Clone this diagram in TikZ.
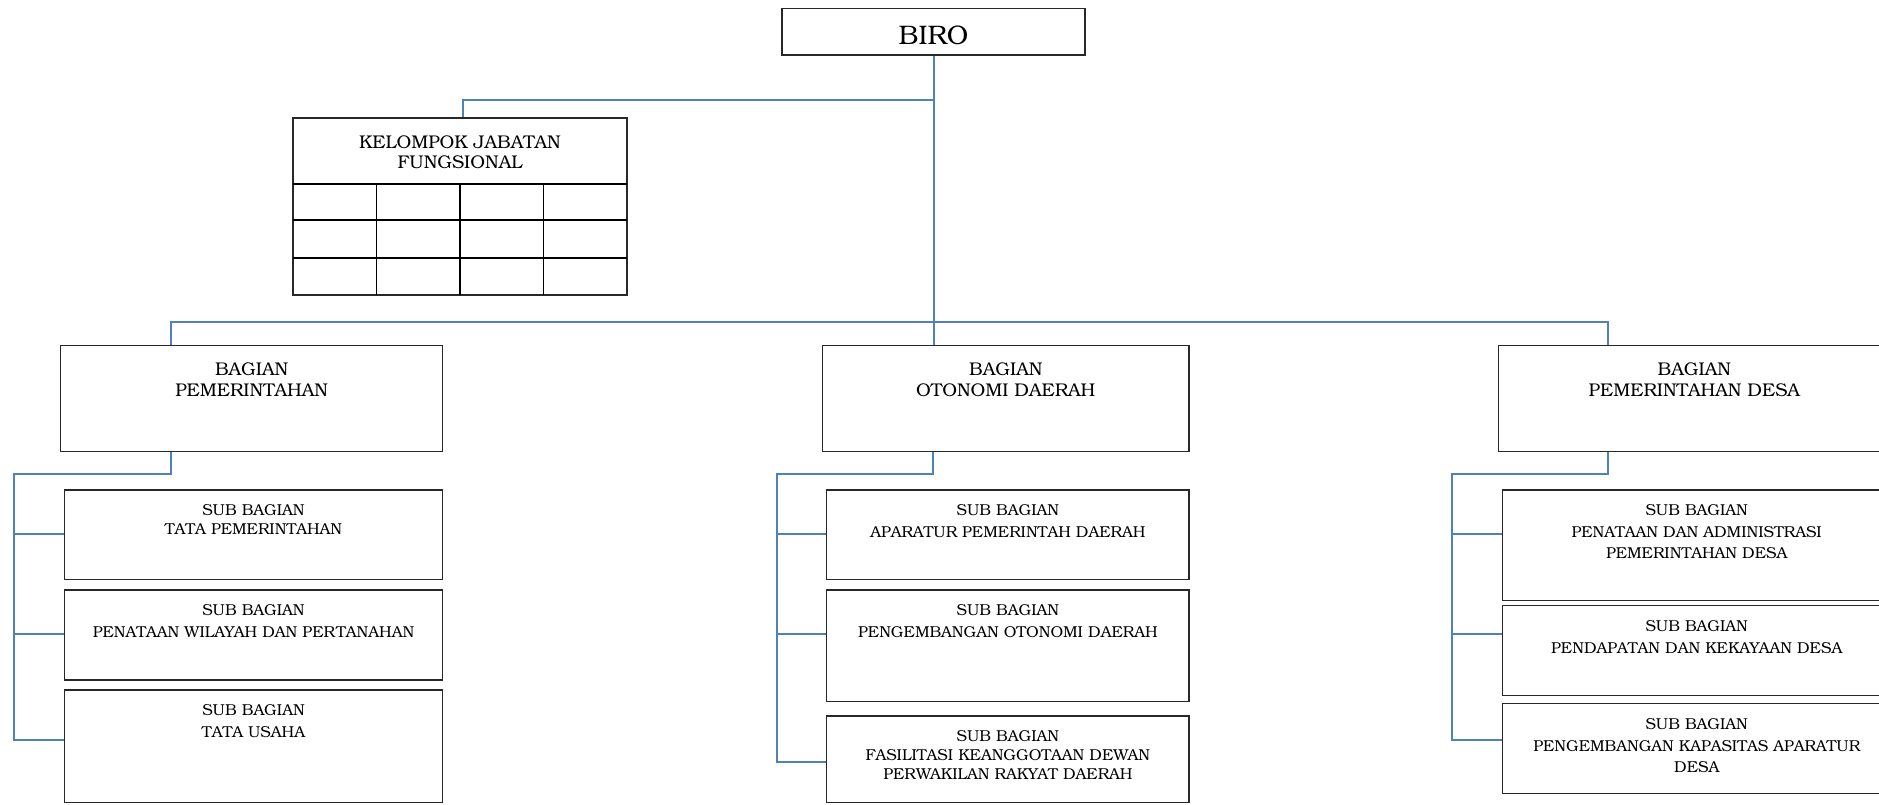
\documentclass[tikz,border=0pt]{standalone}
\usepackage[T1]{fontenc}
\usepackage{bookman}
\usetikzlibrary{fit,calc}
\definecolor{connblue}{RGB}{79,129,189}
\definecolor{boxline}{RGB}{40,40,40}
\begin{document}
\begin{tikzpicture}[x=1pt,y=-1pt,
  box/.style={draw=boxline, line width=1.3pt, inner sep=0pt},
  conn/.style={draw=connblue, line width=2pt},
  grid/.style={draw=black, line width=1.4pt},
  lbl/.style={anchor=north, inner sep=0pt, align=center, font=\fontsize{15.8}{21}\selectfont},
  lblB/.style={anchor=north, inner sep=0pt, align=center, font=\fontsize{18.4}{20.8}\selectfont},
]
\useasboundingbox (0,0) rectangle (1879,804);
\clip (0,0) rectangle (1879,804);

% top boxes
\node[box, fit={(782,8.3) (1085,55)}] (biro) {};
\node[anchor=north, inner sep=0pt, font=\fontsize{26.8}{30}\selectfont] (birot) at (933.5,25.9) {BIRO};

\node[box, fit={(293,118) (627,295)}] (kjf) {};
\node[anchor=north, inner sep=0pt, align=center, font=\fontsize{18.4}{20.3}\selectfont] (kjft) at (460,135.4) {KELOMPOK JABATAN\\FUNGSIONAL};
\draw[grid] (293,184) -- (627,184);
\draw[grid] (293,220) -- (627,220);
\draw[grid] (293,258) -- (627,258);
\draw[grid] (376.5,184) -- (376.5,295);
\draw[grid] (460,184) -- (460,295);
\draw[grid] (543.5,184) -- (543.5,295);

% bagian boxes
\node[box, fit={(60.7,345.7) (442.7,451.7)}] (bp) {};
\node[box, fit={(822.7,345.7) (1189,451.7)}] (bo) {};
\node[box, fit={(1498.3,345.7) (1890,451.7)}] (bd) {};
\node[lblB] (bpt) at (251.7,362.2) {BAGIAN\\PEMERINTAHAN};
\node[lblB] (bot) at (1005.8,362.2) {BAGIAN\\OTONOMI DAERAH};
\node[lblB] (bdt) at (1694.3,362.2) {BAGIAN\\PEMERINTAHAN DESA};

% sub bagian left
\node[box, fit={(64.3,490) (442.7,579.7)}] (ls1) {};
\node[box, fit={(64.3,590) (442.7,680)}] (ls2) {};
\node[box, fit={(64.3,690) (442.7,802.5)}] (ls3) {};
\node[lbl, font=\fontsize{15.8}{18.3}\selectfont] at (253.5,504.6) {SUB BAGIAN\\TATA PEMERINTAHAN};
\node[lbl, font=\fontsize{15.8}{22.4}\selectfont] at (253.5,604) {SUB BAGIAN\\PENATAAN WILAYAH DAN PERTANAHAN};
\node[lbl, font=\fontsize{15.8}{22.4}\selectfont] at (253.5,704) {SUB BAGIAN\\TATA USAHA};

% sub bagian middle
\node[box, fit={(826.7,490) (1189,579.7)}] (ms1) {};
\node[box, fit={(826.7,590) (1189,701.7)}] (ms2) {};
\node[box, fit={(826.7,716) (1189,802.5)}] (ms3) {};
\node[lbl, font=\fontsize{15.8}{21.7}\selectfont] at (1007.9,504.6) {SUB BAGIAN\\APARATUR PEMERINTAH DAERAH};
\node[lbl, font=\fontsize{15.8}{22.4}\selectfont] at (1007.9,604) {SUB BAGIAN\\PENGEMBANGAN OTONOMI DAERAH};
\node[lbl, font=\fontsize{15.8}{18.8}\selectfont] at (1007.9,730.3) {SUB BAGIAN\\FASILITASI KEANGGOTAAN DEWAN\\PERWAKILAN RAKYAT DAERAH};

% sub bagian right
\node[box, fit={(1502.3,490) (1891,600.3)}] (rs1) {};
\node[box, fit={(1502.3,605.7) (1891,695.7)}] (rs2) {};
\node[box, fit={(1502.3,703.3) (1891,793.3)}] (rs3) {};
\node[lbl, font=\fontsize{15.8}{21.3}\selectfont] at (1696.7,504.6) {SUB BAGIAN\\PENATAAN DAN ADMINISTRASI\\PEMERINTAHAN DESA};
\node[lbl, font=\fontsize{15.8}{21.6}\selectfont] at (1696.7,620.3) {SUB BAGIAN\\PENDAPATAN DAN KEKAYAAN DESA};
\node[lbl, font=\fontsize{15.8}{21.3}\selectfont] at (1696.7,718.6) {SUB BAGIAN\\PENGEMBANGAN KAPASITAS APARATUR\\DESA};

% connectors top
\draw[conn] (biro.south) -- (biro.south |- bo.north);
\draw[conn] (biro.south |- 0,100) -| (kjf.north -| 463,0);
\draw[conn] (bp.north -| 170.7,0) -- (170.7,321.7) -- (1608.3,321.7) -- (bd.north -| 1608.3,0);

% left group
\coordinate (lsp) at (14.3,474);
\draw[conn] (bp.south -| 170.7,0) -- (170.7,474) -- (lsp) -- (14.3,740) -- (ls3.west |- 0,740);
\draw[conn] (14.3,533.7) -- (ls1.west |- 0,533.7);
\draw[conn] (14.3,633.7) -- (ls2.west |- 0,633.7);

% middle group
\coordinate (msp) at (776.7,474);
\draw[conn] (bo.south -| 933,0) -- (933,474) -- (msp) -- (776.7,762) -- (ms3.west |- 0,762);
\draw[conn] (776.7,533.7) -- (ms1.west |- 0,533.7);
\draw[conn] (776.7,633.7) -- (ms2.west |- 0,633.7);

% right group
\coordinate (rsp) at (1452.3,474);
\draw[conn] (bd.south -| 1608.3,0) -- (1608.3,474) -- (rsp) -- (1452.3,740) -- (rs3.west |- 0,740);
\draw[conn] (1452.3,533.7) -- (rs1.west |- 0,533.7);
\draw[conn] (1452.3,633.7) -- (rs2.west |- 0,633.7);
\end{tikzpicture}
\end{document}
